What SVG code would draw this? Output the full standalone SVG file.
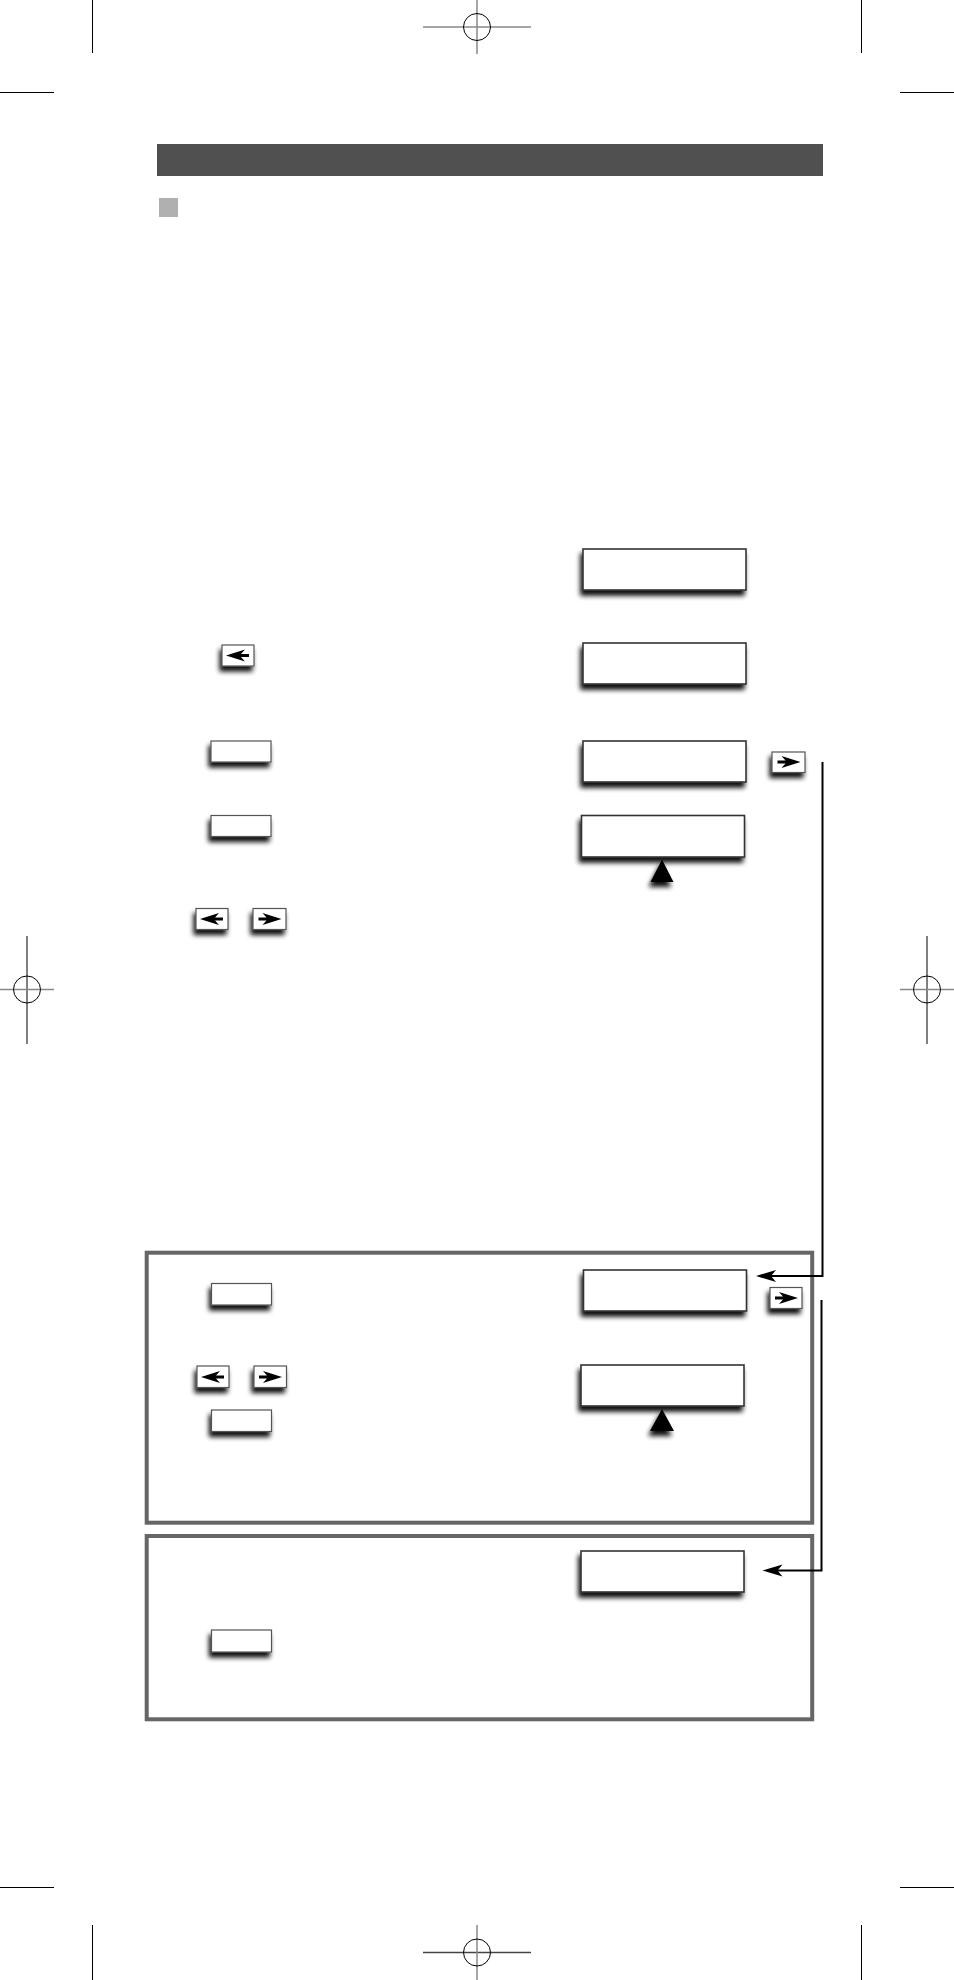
<svg xmlns="http://www.w3.org/2000/svg" width="954" height="1980" viewBox="0 0 954 1980">
<style>
.crop{stroke:#000;stroke-width:1;fill:none}
.reg{stroke:#888;stroke-width:1.5;fill:none}
.regc{stroke:#000;stroke-width:1;fill:none}
.btn{fill:#fff;stroke:#555;stroke-width:1.2}
.disp{fill:#fff;stroke:#333;stroke-width:1.6}
.panel{fill:none;stroke:#666;stroke-width:4}
.glyph{fill:#000}
.conn{stroke:#000;stroke-width:2;fill:none}
</style>
<defs>
<filter id="sh" x="-30%" y="-40%" width="160%" height="200%">
<feGaussianBlur in="SourceAlpha" stdDeviation="2.5"/>
<feOffset dx="-2" dy="5" result="o"/>
<feComponentTransfer><feFuncA type="linear" slope="0.95"/></feComponentTransfer>
<feMerge><feMergeNode/><feMergeNode in="SourceGraphic"/></feMerge>
</filter>
<path id="la" d="M-12,0 L7,-6 L3,-1.5 L11,-1.5 L11,1.5 L3,1.5 L7,6 Z"/>
<path id="ra" d="M12,0 L-7,-6 L-3,-1.5 L-11,-1.5 L-11,1.5 L-3,1.5 L-7,6 Z"/>
</defs>
<rect width="954" height="1980" fill="#fff"/>
<g id="marks">
<line class="crop" x1="92.5" y1="0" x2="92.5" y2="53"/>
<line class="crop" x1="861.5" y1="0" x2="861.5" y2="53"/>
<line class="crop" x1="0" y1="92.5" x2="54" y2="92.5"/>
<line class="crop" x1="900" y1="92.5" x2="954" y2="92.5"/>
<line class="reg" x1="423" y1="27" x2="531" y2="27"/>
<line class="reg" x1="477" y1="0" x2="477" y2="54"/>
<circle class="regc" cx="477" cy="27" r="13.5"/>
<line class="crop" x1="27" y1="936" x2="27" y2="1044"/>
<line class="reg" x1="0" y1="989.5" x2="54" y2="989.5"/>
<circle class="regc" cx="27" cy="989.5" r="13.5"/>
<line class="crop" x1="927" y1="936" x2="927" y2="1044"/>
<line class="reg" x1="900" y1="989.5" x2="954" y2="989.5"/>
<circle class="regc" cx="927" cy="989.5" r="13.5"/>
<line class="crop" x1="0" y1="1887.5" x2="54" y2="1887.5"/>
<line class="crop" x1="900" y1="1887.5" x2="954" y2="1887.5"/>
<line class="crop" x1="92.5" y1="1925" x2="92.5" y2="1980"/>
<line class="crop" x1="861.5" y1="1925" x2="861.5" y2="1980"/>
<line x1="423" y1="1952.5" x2="531" y2="1952.5" stroke="#444" stroke-width="1.5"/>
<line class="reg" x1="477" y1="1925" x2="477" y2="1980"/>
<circle class="regc" cx="477" cy="1952.5" r="13.5"/>
</g>
<g id="header">
<rect x="157" y="144" width="666" height="32" fill="#505050"/>
<rect x="159" y="198" width="19" height="19" fill="#b0b0b0"/>
</g>
<g id="panel1"><rect class="panel" x="146.7" y="1252.7" width="665.5" height="270"/></g>
<g id="panel2"><rect class="panel" x="146.7" y="1536" width="665.5" height="183.3"/></g>
<g id="btn1" filter="url(#sh)"><rect class="btn" x="222" y="645" width="32" height="21"/><use href="#la" class="glyph" x="238" y="655.5"/></g>
<g id="btn2" filter="url(#sh)"><rect class="btn" x="211" y="741" width="60" height="21"/></g>
<g id="btn3" filter="url(#sh)"><rect class="btn" x="211" y="815.5" width="60" height="21"/></g>
<g id="btn4" filter="url(#sh)"><rect class="btn" x="196" y="908.5" width="32" height="21"/><use href="#la" class="glyph" x="212" y="919"/></g>
<g id="btn5" filter="url(#sh)"><rect class="btn" x="253" y="908.5" width="33" height="21"/><use href="#ra" class="glyph" x="269.5" y="919"/></g>
<g id="btn6" filter="url(#sh)"><rect class="btn" x="772" y="752" width="33" height="20.5"/><use href="#ra" class="glyph" x="788.5" y="762"/></g>
<g id="btn7" filter="url(#sh)"><rect class="btn" x="211.5" y="1283.5" width="60" height="21.5"/></g>
<g id="btn8" filter="url(#sh)"><rect class="btn" x="770" y="1287.5" width="32" height="21"/><use href="#ra" class="glyph" x="786" y="1298"/></g>
<g id="btn9" filter="url(#sh)"><rect class="btn" x="197" y="1366" width="32" height="21.5"/><use href="#la" class="glyph" x="213" y="1377"/></g>
<g id="btn10" filter="url(#sh)"><rect class="btn" x="254" y="1366" width="32.5" height="21.5"/><use href="#ra" class="glyph" x="270" y="1377"/></g>
<g id="btn11" filter="url(#sh)"><rect class="btn" x="211.5" y="1410" width="60" height="21.5"/></g>
<g id="btn12" filter="url(#sh)"><rect class="btn" x="211.5" y="1630" width="60" height="22"/></g>
<g id="disp1" filter="url(#sh)"><rect class="disp" x="583" y="549" width="163" height="41"/></g>
<g id="disp2" filter="url(#sh)"><rect class="disp" x="583" y="643" width="163" height="41"/></g>
<g id="disp3" filter="url(#sh)"><rect class="disp" x="583" y="741" width="163" height="41"/></g>
<g id="disp4" filter="url(#sh)"><rect class="disp" x="581.5" y="815.5" width="163" height="41.5"/><polygon class="glyph" points="662,859.5 673.5,882 650.5,882"/></g>
<g id="disp5" filter="url(#sh)"><rect class="disp" x="583.5" y="1270" width="163" height="41"/></g>
<g id="disp6" filter="url(#sh)"><rect class="disp" x="581" y="1365" width="163" height="41"/><polygon class="glyph" points="662,1409 674,1431 650,1431"/></g>
<g id="disp7" filter="url(#sh)"><rect class="disp" x="581" y="1551" width="163" height="41"/></g>
<g id="connectors">
<path class="conn" d="M822.5,762 V1276 H770"/>
<path class="glyph" d="M756,1276 L776,1270 L771,1276 L776,1282 Z"/>
<path class="conn" d="M821.5,1300 V1570.5 H776"/>
<path class="glyph" d="M762.5,1570.5 L782.5,1564.5 L777.5,1570.5 L782.5,1576.5 Z"/>
</g>
</svg>
